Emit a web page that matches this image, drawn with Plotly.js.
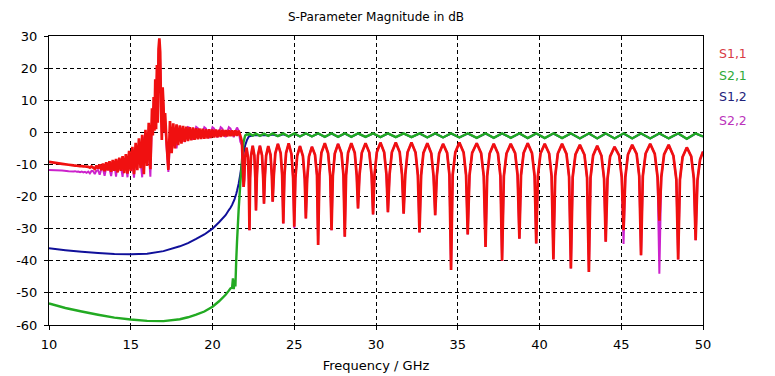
<!DOCTYPE html>
<html>
<head>
<meta charset="utf-8">
<script src="https://cdn.plot.ly/plotly-3.0.1.min.js"></script>
<style>html,body{margin:0;padding:0;background:#fff;}#chart{width:775px;height:376px;}</style>
</head>
<body>
<div id="chart"></div>
<script>
// Frequency grid (GHz) shared by S1,1 and S2,2
const freqA = [
10.0,10.4,10.8,11.2,11.5,11.6,11.7,11.8,11.9,12.0,12.1,12.2,12.3,12.4,12.5,12.6,12.7,12.8,12.9,13.0,
13.1,13.2,13.3,13.4,13.5,13.6,13.7,13.8,13.9,14.0,14.1,14.2,14.3,14.4,14.5,14.6,14.7,14.8,14.9,15.0,
15.1,15.2,15.3,15.4,15.5,15.6,15.7,15.8,15.9,16.0,16.1,16.2,16.3,16.35,16.4,16.45,16.5,16.55,16.6,16.65,
16.7,16.75,16.8,16.85,16.9,16.95,17.0,17.05,17.1,17.2,17.3,17.4,17.5,17.6,17.7,17.8,17.9,18.0,18.1,18.2,
18.3,18.4,18.5,18.6,18.7,18.8,18.9,19.0,19.1,19.2,19.3,19.4,19.5,19.6,19.7,19.8,19.9,20.0,20.1,20.2,
20.3,20.4,20.5,20.6,20.7,20.8,20.9,21.0,21.1,21.2,21.3,21.4,21.5,21.6,21.7,21.8,
21.90,21.94,21.99,22.08,22.17,22.22,
22.26,22.30,22.36,22.46,22.56,22.62,
22.66,22.71,22.78,22.90,23.03,23.10,
23.15,23.20,23.28,23.41,23.55,23.63,
23.68,23.75,23.84,24.00,24.17,24.26,
24.33,24.40,24.50,24.66,24.83,24.93,
25.00,25.07,25.18,25.35,25.53,25.64,
25.71,25.79,25.90,26.08,26.27,26.39,
26.46,26.54,26.66,26.87,27.07,27.20,
27.28,27.36,27.48,27.68,27.89,28.01,
28.09,28.17,28.29,28.49,28.70,28.82,
28.90,28.99,29.13,29.36,29.59,29.73,
29.82,29.91,30.05,30.27,30.50,30.64,
30.73,30.83,30.97,31.21,31.45,31.59,
31.69,31.79,31.93,32.17,32.42,32.56,
32.66,32.76,32.90,33.14,33.38,33.52,
33.62,33.72,33.86,34.10,34.35,34.49,
34.59,34.69,34.85,35.10,35.36,35.51,
35.61,35.72,35.88,36.16,36.43,36.59,
36.70,36.80,36.95,37.20,37.46,37.61,
37.71,37.82,37.98,38.24,38.51,38.66,
38.77,38.87,39.03,39.28,39.54,39.70,
39.80,39.90,40.06,40.32,40.59,40.74,
40.85,40.96,41.12,41.38,41.65,41.81,
41.92,42.03,42.20,42.47,42.75,42.91,
43.02,43.12,43.28,43.53,43.79,43.95,
44.05,44.16,44.32,44.59,44.87,45.03,
45.14,45.25,45.41,45.67,45.94,46.10,
46.21,46.32,46.49,46.77,47.05,47.22,
47.33,47.45,47.62,47.90,48.19,48.37,
48.48,48.59,48.75,49.01,49.28,49.44,
49.55,49.66,49.82,50.00
];

// S1,1 magnitude (dB)
const s11 = [
-9.2,-9.5,-9.8,-10.1,-10.3,-10.35,-10.4,-10.45,-10.5,-10.55,-10.6,-10.65,-10.7,-10.75,-11.0,-10.6,-11.0,-11.4,-10.4,-11.3,
-10.0,-11.8,-9.7,-12.1,-9.3,-11.9,-9.0,-12.3,-8.6,-12.0,-8.3,-12.5,-7.9,-12.0,-7.4,-12.7,-6.8,-12.9,-5.8,-12.1,
-4.5,-13.0,-3.3,-11.8,-1.9,-11.2,-0.8,-13.0,0.8,-10.5,3.0,-11.5,7.5,-1.0,11.0,0.5,16.5,1.0,21.0,3.0,
26.0,29.3,25.0,8.0,-2.4,14.0,9.0,0.0,6.0,-4.0,-11.7,3.5,-6.5,2.8,-5.0,2.5,-4.0,2.2,-3.5,2.0,
-3.0,1.8,-2.7,1.6,-2.5,1.5,-2.3,1.3,-2.2,1.2,-2.1,1.1,-2.0,1.0,-1.9,1.0,-1.8,0.9,-1.6,0.9,
-1.5,0.8,-1.4,0.8,-1.3,0.7,-1.3,0.7,-1.2,0.6,-1.2,0.6,-1.1,0.5,-1.0,-3.0,
-17.0,-14.8,-7.8,-4.8,-7.8,-14.8,
-30.5,-14.2,-7.2,-4.2,-7.2,-14.2,
-24.3,-14.2,-7.2,-4.2,-7.2,-14.3,
-22.2,-14.3,-7.3,-4.3,-7.0,-13.6,
-21.6,-13.6,-6.6,-3.6,-6.5,-13.4,
-28.4,-13.4,-6.4,-3.4,-6.8,-14.3,
-29.4,-14.3,-7.3,-4.3,-7.4,-14.5,
-26.8,-14.5,-7.5,-4.5,-7.0,-13.4,
-35.1,-13.4,-6.4,-3.4,-6.5,-13.6,
-30.5,-13.6,-6.6,-3.6,-6.5,-13.4,
-32.5,-13.4,-6.4,-3.4,-6.4,-13.4,
-23.7,-13.4,-6.4,-3.4,-6.3,-13.2,
-25.6,-13.2,-6.2,-3.2,-6.2,-13.2,
-24.9,-13.2,-6.2,-3.2,-6.2,-13.2,
-25.3,-13.2,-6.2,-3.2,-6.3,-13.4,
-31.2,-13.4,-6.4,-3.4,-6.5,-13.6,
-25.8,-13.6,-6.6,-3.6,-6.4,-13.2,
-42.9,-13.2,-6.2,-3.2,-6.3,-13.4,
-31.8,-13.4,-6.4,-3.4,-6.5,-13.6,
-35.7,-13.6,-6.6,-3.6,-6.6,-13.6,
-40.0,-13.6,-6.6,-3.6,-6.5,-13.4,
-33.1,-13.4,-6.4,-3.4,-6.5,-13.6,
-34.6,-13.6,-6.6,-3.6,-6.6,-13.6,
-39.6,-13.6,-6.6,-3.6,-6.7,-13.9,
-42.4,-13.9,-6.9,-3.9,-7.0,-14.2,
-43.5,-14.2,-7.2,-4.2,-7.3,-14.5,
-34.1,-14.5,-7.5,-4.5,-7.2,-13.9,
-30.5,-13.9,-6.9,-3.9,-6.7,-13.6,
-38.3,-13.6,-6.6,-3.6,-6.7,-13.9,
-27.5,-13.9,-6.9,-3.9,-7.3,-14.7,
-39.6,-14.7,-7.7,-4.7,-7.5,-14.4,
-33.6,-15.0,-8.5,-6.0
];

// S2,2 magnitude (dB)
const s22 = [
-11.7,-11.8,-11.9,-12.1,-12.2,-12.1,-12.3,-12.2,-12.4,-12.2,-12.5,-12.3,-12.6,-12.2,-12.8,-12.0,-12.1,-13.0,-11.9,-11.8,
-13.2,-11.5,-11.3,-13.5,-11.0,-10.6,-11.3,-13.6,-10.3,-10.0,-13.8,-9.5,-9.4,-10.6,-13.9,-8.6,-9.8,-14.0,-7.5,-7.0,
-9.5,-14.1,-5.5,-4.5,-6.0,-9.0,-14.0,-2.0,-0.5,-1.0,-6.0,-13.8,4.0,2.0,8.0,6.0,13.0,10.0,18.0,16.0,
24.0,28.0,22.0,12.0,0.0,10.0,7.0,4.0,3.0,-5.0,-12.3,-3.0,0.5,1.5,-1.0,-5.0,-1.0,1.5,1.0,-1.0,
-3.0,-0.5,1.6,1.4,-0.5,-2.3,0.0,1.7,1.3,-0.5,-2.0,0.0,1.6,1.2,-0.5,-1.8,0.0,1.6,1.2,-0.3,
-1.6,0.0,1.6,1.2,-0.3,-1.5,0.0,1.6,1.2,-0.3,-1.5,0.3,1.5,0.5,-2.9,-4.0,
-17.0,-14.8,-7.8,-4.8,-7.8,-14.8,
-30.5,-14.2,-7.2,-4.2,-7.2,-14.2,
-24.3,-14.2,-7.2,-4.2,-7.2,-14.3,
-22.2,-14.3,-7.3,-4.3,-7.0,-13.6,
-21.6,-13.6,-6.6,-3.6,-6.5,-13.4,
-28.4,-13.4,-6.4,-3.4,-6.8,-14.3,
-29.9,-14.3,-7.3,-4.3,-7.4,-14.5,
-26.8,-14.5,-7.5,-4.5,-7.0,-13.4,
-35.1,-13.4,-6.4,-3.4,-6.5,-13.6,
-30.5,-13.6,-6.6,-3.6,-6.5,-13.4,
-32.5,-13.4,-6.4,-3.4,-6.4,-13.4,
-23.7,-13.4,-6.4,-3.4,-6.3,-13.2,
-25.6,-13.2,-6.2,-3.2,-6.2,-13.2,
-24.9,-13.2,-6.2,-3.2,-6.2,-13.2,
-25.3,-13.2,-6.2,-3.2,-6.3,-13.4,
-31.2,-13.4,-6.4,-3.4,-6.5,-13.6,
-25.8,-13.6,-6.6,-3.6,-6.4,-13.2,
-42.9,-13.2,-6.2,-3.2,-6.3,-13.4,
-31.8,-13.4,-6.4,-3.4,-6.5,-13.6,
-35.7,-13.6,-6.6,-3.6,-6.6,-13.6,
-40.0,-13.6,-6.6,-3.6,-6.5,-13.4,
-33.1,-13.4,-6.4,-3.4,-6.5,-13.6,
-34.6,-13.6,-6.6,-3.6,-6.6,-13.6,
-39.6,-13.6,-6.6,-3.6,-6.7,-13.9,
-42.4,-13.9,-6.9,-3.9,-7.0,-14.2,
-43.5,-14.2,-7.2,-4.2,-7.3,-14.5,
-34.1,-14.5,-7.5,-4.5,-7.2,-13.9,
-34.8,-13.9,-6.9,-3.9,-6.7,-13.6,
-38.3,-13.6,-6.6,-3.6,-6.7,-13.9,
-44.0,-13.9,-6.9,-3.9,-7.3,-14.7,
-39.6,-14.7,-7.7,-4.7,-7.5,-14.4,
-33.6,-15.0,-8.5,-6.0
];

// Frequency grid (GHz) shared by S2,1 and S1,2
const freqB = [
10,11,12,13,14,15,16,17,18,18.5,19,19.5,20,20.4,20.8,21.0,21.1,21.2,21.25,21.3,21.35,21.4,21.45,21.5,21.6,21.7,21.8,21.9,22.0,22.1,22.2,
22.26,22.46,22.66,22.90,23.15,23.41,23.68,24.00,24.33,24.66,25.00,25.35,25.71,26.08,26.46,26.87,27.28,27.68,28.09,28.49,
28.90,29.36,29.82,30.27,30.73,31.21,31.69,32.17,32.66,33.14,33.62,34.10,34.59,35.10,35.61,36.16,36.70,37.20,37.71,38.24,
38.77,39.28,39.80,40.32,40.85,41.38,41.92,42.47,43.02,43.53,44.05,44.59,45.14,45.67,46.21,46.77,47.33,47.90,48.48,49.01,
49.55,50.00
];

// S2,1 magnitude (dB)
const s21 = [
-53.3,-54.7,-55.8,-56.8,-57.7,-58.3,-58.7,-58.8,-58.2,-57.6,-56.8,-55.8,-54.3,-52.6,-50.6,-49.3,-48.6,-48.3,-45.5,-48.8,-46.0,-48.0,-40.0,-34.0,-24.0,-16.0,-9.0,-3.0,-1.0,-0.6,-0.8,
-0.4,-1.0,-0.4,-1.1,-0.4,-1.1,-0.35,-1.2,-0.35,-1.3,-0.35,-1.3,-0.3,-1.3,-0.3,-1.4,-0.3,-1.4,-0.3,-1.4,
-0.3,-1.4,-0.3,-1.5,-0.3,-1.5,-0.3,-1.5,-0.3,-1.6,-0.3,-1.6,-0.3,-1.6,-0.3,-1.7,-0.3,-1.7,-0.3,-1.7,
-0.3,-1.8,-0.3,-1.8,-0.3,-1.8,-0.3,-1.9,-0.3,-1.9,-0.3,-1.9,-0.3,-1.9,-0.3,-1.9,-0.3,-1.9,-0.3,-2.0,
-0.3,-1.3
];

// S1,2 magnitude (dB)
const s12 = [
-36.1,-36.7,-37.2,-37.6,-37.9,-38.0,-37.8,-37.0,-35.5,-34.5,-33.2,-31.8,-30.0,-28.0,-25.8,-24.2,-23.5,-22.6,-22.0,-21.4,-20.8,-20.0,-19.2,-18.2,-16.0,-13.0,-9.5,-6.5,-4.0,-2.5,-1.5,
-1.2,-1.0,-0.8,-1.0,-0.8,-1.0,-0.7,-1.1,-0.6,-1.2,-0.5,-1.3,-0.4,-1.3,-0.4,-1.4,-0.4,-1.4,-0.4,-1.4,
-0.4,-1.4,-0.4,-1.5,-0.4,-1.5,-0.4,-1.5,-0.4,-1.6,-0.4,-1.6,-0.4,-1.6,-0.4,-1.7,-0.4,-1.7,-0.4,-1.7,
-0.4,-1.8,-0.4,-1.8,-0.4,-1.8,-0.4,-1.9,-0.4,-1.9,-0.4,-1.9,-0.4,-1.9,-0.4,-1.9,-0.4,-1.9,-0.4,-2.0,
-0.4,-1.3
];

const seriesNames = ['S1,1', 'S2,1', 'S1,2', 'S2,2'];
const xTicks = [10, 15, 20, 25, 30, 35, 40, 45, 50];
const yTicks = [-60, -50, -40, -30, -20, -10, 0, 10, 20, 30];

const colors = {
  'S1,1': '#f01010',
  'S2,1': '#22aa22',
  'S1,2': '#10109a',
  'S2,2': '#cc22cc'
};
const textColors = {
  'S1,1': '#d83a44',
  'S2,1': '#2eaa3a',
  'S1,2': '#22227a',
  'S2,2': '#bb33bb'
};

const traces = [
  {x: freqB, y: s12, name: 'S1,2', mode: 'lines', line: {color: colors['S1,2'], width: 2, simplify: false}},
  {x: freqB, y: s21, name: 'S2,1', mode: 'lines', line: {color: colors['S2,1'], width: 2.4, simplify: false}},
  {x: freqA, y: s22, name: 'S2,2', mode: 'lines', line: {color: colors['S2,2'], width: 2, simplify: false}},
  {x: freqA, y: s11, name: 'S1,1', mode: 'lines', line: {color: colors['S1,1'], width: 2.7, simplify: false}}
];

const legendY = [0.938, 0.865, 0.789, 0.709];
const annotations = seriesNames.map((n, i) => ({
  text: n, xref: 'paper', yref: 'paper', x: 1.022, y: legendY[i],
  xanchor: 'left', yanchor: 'middle', showarrow: false,
  font: {family: 'DejaVu Sans, sans-serif', size: 12.5, color: textColors[n]}
}));

const axisCommon = {
  showline: true, linecolor: '#000', linewidth: 1, mirror: true,
  ticks: 'outside', ticklen: 4, tickcolor: '#000', tickwidth: 1,
  showgrid: true, gridcolor: '#000', gridwidth: 1, griddash: '4px,3px',
  zeroline: false,
  tickfont: {family: 'DejaVu Sans, sans-serif', size: 13, color: '#000'}
};

const layout = {
  width: 775, height: 376,
  margin: {l: 49, r: 72, t: 36, b: 51, pad: 0},
  paper_bgcolor: '#ffffff', plot_bgcolor: '#ffffff',
  showlegend: false,
  font: {family: 'DejaVu Sans, sans-serif', size: 12, color: '#000'},
  title: {text: 'S-Parameter Magnitude in dB', x: 0.5, xref: 'paper', xanchor: 'center',
          y: 0.955, yref: 'container', yanchor: 'middle',
          font: {family: 'DejaVu Sans, sans-serif', size: 12, color: '#000'}},
  xaxis: Object.assign({}, axisCommon, {
    range: [10, 50], tickvals: xTicks, ticktext: xTicks.map(String),
    ticklabelstandoff: 3,
    title: {text: 'Frequency / GHz', standoff: 10, font: {family: 'DejaVu Sans, sans-serif', size: 13, color: '#000'}}
  }),
  yaxis: Object.assign({}, axisCommon, {
    range: [-60, 30], tickvals: yTicks, ticktext: yTicks.map(String),
    ticklabelstandoff: 4
  }),
  annotations: annotations
};

Plotly.newPlot('chart', traces, layout, {displayModeBar: false, staticPlot: true});
</script>
</body>
</html>
